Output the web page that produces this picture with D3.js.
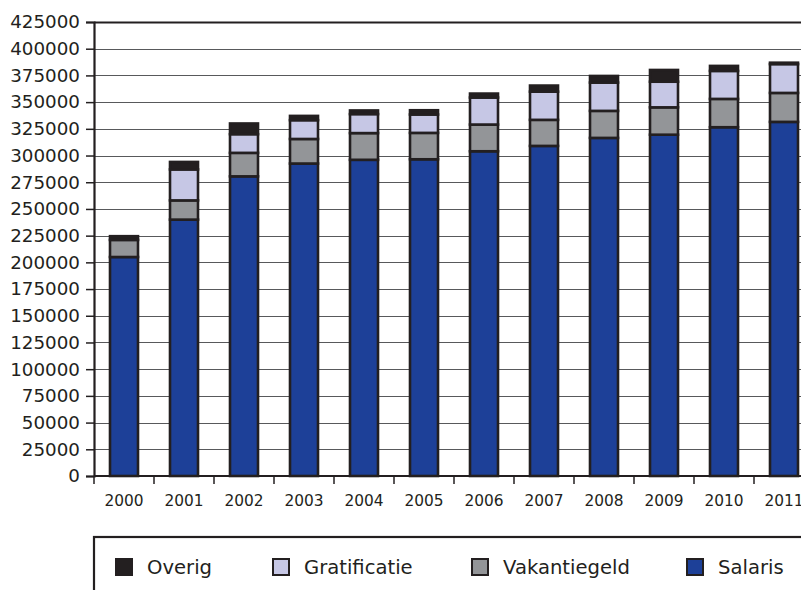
<!DOCTYPE html>
<html>
<head>
<meta charset="utf-8">
<script src="https://cdn.jsdelivr.net/npm/d3@7"></script>
<style>
  body { margin: 0; background: #fff; }
  svg text { font-family: "DejaVu Sans", sans-serif; fill: #231f20; }
</style>
</head>
<body>
<svg width="801" height="590"></svg>
<script>
// data
const years = ["2000", "2001", "2002", "2003", "2004", "2005", "2006", "2007", "2008", "2009", "2010", "2011"];
const salaris      = [205000, 240000, 280500, 292500, 296000, 296500, 304000, 309000, 316500, 319500, 326500, 331500];
const vakantiegeld = [16000, 18000, 22000, 23000, 25000, 24700, 25000, 24400, 25300, 25600, 26500, 27100];
const gratificatie = [0, 29000, 17500, 17600, 17800, 17200, 25300, 26400, 26500, 24000, 26200, 27000];
const overig       = [3500, 7000, 10000, 4000, 3400, 4000, 3700, 5700, 6200, 11000, 4700, 1300];
const yTicks = [0, 25000, 50000, 75000, 100000, 125000, 150000, 175000, 200000, 225000, 250000, 275000, 300000, 325000, 350000, 375000, 400000, 425000];

const seriesNames = ["Salaris", "Vakantiegeld", "Gratificatie", "Overig"];
const colors = {
  Salaris: "#1d4098",
  Vakantiegeld: "#939598",
  Gratificatie: "#c6c7e5",
  Overig: "#231f20"
};
const legendOrder = ["Overig", "Gratificatie", "Vakantiegeld", "Salaris"];

const table = years.map((yr, i) => ({
  year: yr,
  Salaris: salaris[i],
  Vakantiegeld: vakantiegeld[i],
  Gratificatie: gratificatie[i],
  Overig: overig[i]
}));

const svg = d3.select("svg");
const plotLeft = 94, plotRight = 814, plotTop = 22, plotBottom = 476;

const x = d3.scaleBand()
  .domain(years)
  .range([plotLeft, plotRight])
  .paddingInner(0.5)
  .paddingOuter(0.25);

const y = d3.scaleLinear()
  .domain([0, 425000])
  .range([plotBottom, plotTop]);

// gridlines
svg.append("g")
  .selectAll("line")
  .data(yTicks)
  .join("line")
  .attr("x1", plotLeft)
  .attr("x2", 801)
  .attr("y1", d => Math.round(y(d)) + 0.5)
  .attr("y2", d => Math.round(y(d)) + 0.5)
  .attr("stroke", d => d === 425000 ? "#231f20" : "#58595b")
  .attr("stroke-width", d => d === 425000 ? 2 : 1.2);

// y axis
const yAxis = svg.append("g")
  .attr("transform", `translate(${plotLeft},0)`)
  .call(d3.axisLeft(y).tickValues(yTicks).tickSize(8).tickPadding(6).tickFormat(d3.format("d")));
yAxis.select(".domain").attr("stroke", "#231f20").attr("stroke-width", 2.2);
yAxis.selectAll(".tick line").attr("stroke", "#231f20").attr("stroke-width", 1.5);
yAxis.selectAll(".tick text")
  .attr("font-size", 18.3)
  .style("font-family", "'DejaVu Sans', sans-serif")
  .attr("fill", "#231f20");

// stacked bars
const stack = d3.stack().keys(seriesNames)(table);

svg.append("g")
  .selectAll("g")
  .data(stack)
  .join("g")
  .attr("fill", s => colors[s.key])
  .selectAll("rect")
  .data(s => s.filter(d => d[1] - d[0] > 0))
  .join("rect")
  .attr("x", d => x(d.data.year) + 1)
  .attr("width", x.bandwidth() - 2)
  .attr("y", d => y(d[1]))
  .attr("height", d => y(d[0]) - y(d[1]))
  .attr("stroke", "#231f20")
  .attr("stroke-width", 2.6);

// x axis line and ticks at category boundaries
svg.append("line")
  .attr("x1", plotLeft).attr("x2", 801)
  .attr("y1", plotBottom).attr("y2", plotBottom)
  .attr("stroke", "#231f20").attr("stroke-width", 2.2);

const boundaries = years.map(yr => x(yr) - x.step() * 0.25);
svg.append("g")
  .selectAll("line")
  .data(boundaries)
  .join("line")
  .attr("x1", d => d).attr("x2", d => d)
  .attr("y1", plotBottom).attr("y2", plotBottom + 8)
  .attr("stroke", "#231f20").attr("stroke-width", 1.5);

svg.append("g")
  .selectAll("text")
  .data(years)
  .join("text")
  .attr("x", d => x(d) + x.bandwidth() / 2)
  .attr("y", 506)
  .attr("text-anchor", "middle")
  .attr("font-size", 15.4)
  .text(d => d);

// legend
svg.append("rect")
  .attr("x", 94).attr("y", 537)
  .attr("width", 740).attr("height", 80)
  .attr("fill", "none")
  .attr("stroke", "#231f20")
  .attr("stroke-width", 2.2);

const legendX = { Overig: 116, Gratificatie: 273, Vakantiegeld: 472, Salaris: 687 };
const legend = svg.append("g")
  .selectAll("g")
  .data(legendOrder)
  .join("g")
  .attr("transform", d => `translate(${legendX[d]},559)`);

legend.append("rect")
  .attr("width", 16).attr("height", 16)
  .attr("fill", d => colors[d])
  .attr("stroke", "#231f20")
  .attr("stroke-width", 2);

legend.append("text")
  .attr("x", 31)
  .attr("y", 15)
  .attr("font-size", 19.6)
  .text(d => d);
</script>
</body>
</html>
